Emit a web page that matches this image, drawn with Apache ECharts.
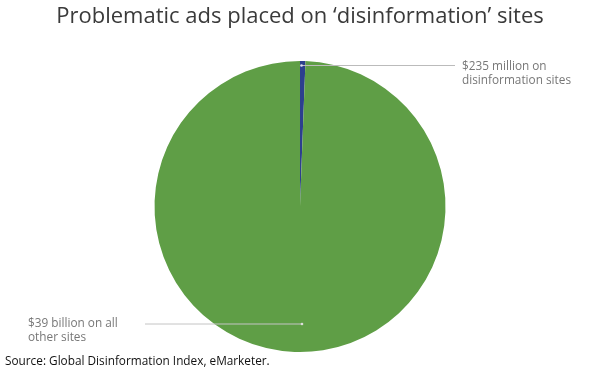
<!DOCTYPE html>
<html><head><meta charset="utf-8">
<script src="https://cdn.jsdelivr.net/npm/echarts@6/dist/echarts.min.js"></script>
<style>html,body{margin:0;padding:0;background:#fff}#c{width:600px;height:375px}</style>
</head><body><div id="c"></div>
<script>
var categories = ['$235 million on\ndisinformation sites', '$39 billion on all\nother sites'];
var values = [235, 39000];
var colors = ['#2c3f8e', '#5f9e46'];

var chart = echarts.init(document.getElementById('c'));
var cx = 300, cy = 206.5, R = 145.5;
chart.setOption({
  animation: false,
  title: {
    text: 'Problematic ads placed on \u2018disinformation\u2019 sites',
    left: 'center', top: 1,
    textStyle: {fontFamily: 'Open Sans', fontSize: 22, fontWeight: 'normal', color: '#3a3a3a'}
  },
  graphic: [
    {type: 'text', left: 5, top: 356, style: {text: 'Source: Global Disinformation Index, eMarketer.', fontFamily: 'Open Sans', fontSize: 11.8, fill: '#111'}},
    {type: 'line', shape: {x1: 301.5, y1: 65.5, x2: 455, y2: 65.5}, style: {stroke: '#bbb', lineWidth: 1}, z: 99},
    {type: 'line', shape: {x1: 302, y1: 324, x2: 145, y2: 324}, style: {stroke: '#c4c4c4', lineWidth: 1}, z: 99},
    {type: 'circle', shape: {cx: 301.5, cy: 65.5, r: 1.3}, style: {fill: '#dde'}, z: 100},
    {type: 'circle', shape: {cx: 302, cy: 324, r: 1.3}, style: {fill: '#ddd'}, z: 100}
  ],
  series: [{
    type: 'pie',
    center: [cx, cy],
    radius: R,
    startAngle: 90,
    clockwise: true,
    data: categories.map(function (c, i) { return {name: c, value: values[i], itemStyle: {color: colors[i]}}; }),
    label: {
      show: true, formatter: '{b}', fontFamily: 'Open Sans', fontSize: 11.8, color: '#777', lineHeight: 14
    },
    labelLine: {show: false},
    labelLayout: function (p) {
      if (p.dataIndex === 0) {
        return {x: 462, y: 73.5, align: 'left', verticalAlign: 'middle'};
      }
      return {x: 28, y: 331, align: 'left', verticalAlign: 'middle'};
    }
  }]
});
</script></body></html>
